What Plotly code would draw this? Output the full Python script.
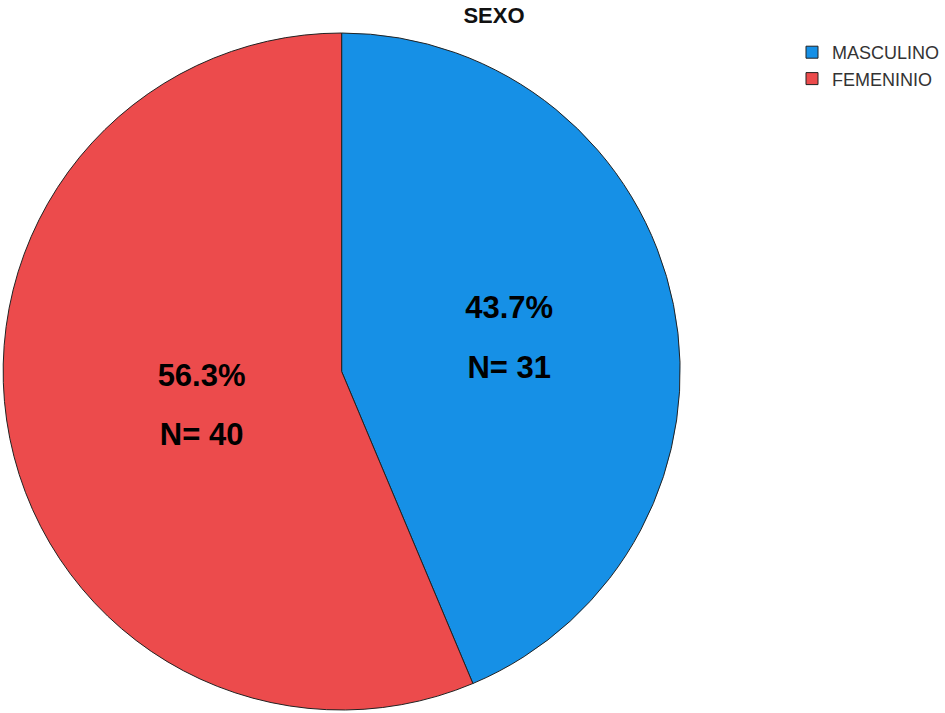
import plotly.graph_objects as go

categories = ["MASCULINO", "FEMENINIO"]
counts = [31, 40]
colors = ["#1690E6", "#EC4B4C"]

W, H = 945, 713
line = "<span style='font-size:31px'>{}</span>"
pad = ["", "&nbsp;" * 6]
templates = [
    line.format(p + "%{percent:.1%}") + "<br>" + line.format(p + "N= %{value}")
    for p in pad
]
fig = go.Figure(go.Pie(
    labels=categories,
    values=counts,
    sort=False,
    direction="clockwise",
    rotation=0,
    marker=dict(colors=colors, line=dict(color="#222222", width=1)),
    texttemplate=templates,
    textposition="inside",
    insidetextorientation="horizontal",
    insidetextfont=dict(family="Liberation Sans, Arial", size=46, color="black", weight="bold"),
    hoverinfo="label+value+percent",
    domain=dict(x=[3 / W, 681 / W], y=[3 / H, 1 - 33 / H]),
))

fig.update_layout(
    width=W, height=H,
    margin=dict(l=0, r=0, t=0, b=0),
    paper_bgcolor="white",
    plot_bgcolor="white",
    title=dict(text="<b>SEXO</b>", x=494 / W, xanchor="center", y=1 - 15 / H, yanchor="middle",
               font=dict(family="Liberation Sans, Arial", size=22, color="#111111")),
    legend=dict(x=793 / W, y=1 - 34 / H, xanchor="left", yanchor="top",
                font=dict(family="Liberation Sans, Arial", size=18, color="#333333"),
                bgcolor="rgba(0,0,0,0)", itemwidth=30),
    showlegend=True,
)

fig.write_html("out.html")
